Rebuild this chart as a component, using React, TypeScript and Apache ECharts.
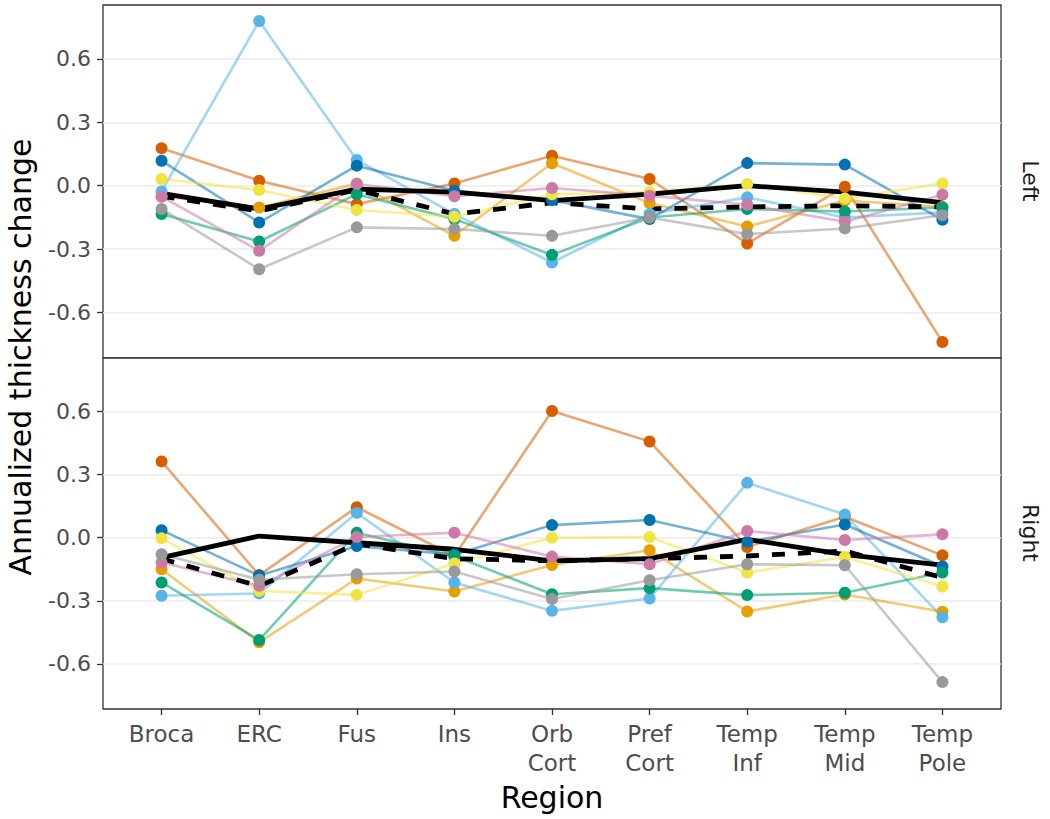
import React, { useEffect, useRef } from "react";
import * as echarts from "echarts";

// ---------- data ----------
const categories = ["Broca", "ERC", "Fus", "Ins", "Orb Cort", "Pref Cort", "Temp Inf", "Temp Mid", "Temp Pole"];
const hemispheres = ["Left", "Right"];
const yTickValues = [-0.6, -0.3, 0, 0.3, 0.6];

const studyNames = ["Study 1", "Study 2", "Study 3", "Study 4", "Study 5", "Study 6", "Study 7", "Study 8"];
const studyColors = ["#D55E00", "#E69F00", "#56B4E9", "#0072B2", "#009E73", "#F0E442", "#CC79A7", "#999999"];

// Left hemisphere
const leftS1 = [0.177, 0.024, -0.087, 0.011, 0.142, 0.032, -0.273, -0.005, -0.739];
const leftS2 = [-0.05, -0.103, 0.01, -0.237, 0.106, -0.082, -0.193, -0.07, -0.1];
const leftS3 = [-0.027, 0.779, 0.122, -0.134, -0.363, -0.134, -0.055, -0.15, -0.126];
const leftS4 = [0.118, -0.174, 0.095, -0.024, -0.068, -0.158, 0.107, 0.1, -0.161];
const leftS5 = [-0.134, -0.264, -0.04, -0.158, -0.327, -0.15, -0.11, -0.122, -0.103];
const leftS6 = [0.032, -0.02, -0.115, -0.147, -0.04, -0.03, 0.008, -0.06, 0.011];
const leftS7 = [-0.052, -0.308, 0.008, -0.05, -0.011, -0.047, -0.09, -0.17, -0.043];
const leftS8 = [-0.11, -0.395, -0.197, -0.205, -0.237, -0.15, -0.229, -0.202, -0.14];
const leftMean = [-0.036, -0.11, -0.016, -0.03, -0.07, -0.04, 0.0, -0.03, -0.08];
const leftMeta = [-0.05, -0.12, -0.02, -0.134, -0.08, -0.11, -0.1, -0.095, -0.1];

// Right hemisphere
const rightS1 = [0.363, -0.178, 0.145, -0.087, 0.603, 0.458, -0.044, 0.1, -0.084];
const rightS2 = [-0.15, -0.498, -0.194, -0.256, -0.13, -0.06, -0.351, -0.27, -0.352];
const rightS3 = [-0.276, -0.265, 0.118, -0.213, -0.348, -0.289, 0.261, 0.11, -0.379];
const rightS4 = [0.036, -0.18, -0.04, -0.08, 0.06, 0.084, -0.02, 0.063, -0.137];
const rightS5 = [-0.213, -0.487, 0.024, -0.087, -0.269, -0.24, -0.273, -0.262, -0.166];
const rightS6 = [-0.003, -0.253, -0.272, -0.123, 0.0, 0.003, -0.166, -0.092, -0.232];
const rightS7 = [-0.118, -0.229, 0.003, 0.024, -0.09, -0.126, 0.032, -0.011, 0.016];
const rightS8 = [-0.079, -0.2, -0.174, -0.161, -0.292, -0.202, -0.126, -0.131, -0.687];
const rightMean = [-0.095, 0.008, -0.024, -0.055, -0.11, -0.1, -0.008, -0.08, -0.13];
const rightMeta = [-0.1, -0.23, -0.03, -0.1, -0.11, -0.1, -0.087, -0.063, -0.19];

const leftStudies = [leftS1, leftS2, leftS3, leftS4, leftS5, leftS6, leftS7, leftS8];
const rightStudies = [rightS1, rightS2, rightS3, rightS4, rightS5, rightS6, rightS7, rightS8];

// ---------- component ----------
const FONT = "'DejaVu Sans', sans-serif";

function toPairs(arr: number[]) {
  return categories.map((_, i) => [i, arr[i]]);
}

export default function App() {
  const ref = useRef<HTMLDivElement>(null);

  useEffect(() => {
    document.body.style.margin = "0";
    if (!ref.current) return;
    const chart = echarts.init(ref.current, null, { renderer: "svg" });

    const grids = [
      { left: 103, top: 5, width: 898, height: 353 },
      { left: 103, top: 358, width: 898, height: 351 },
    ].map((g) => ({ ...g, show: true, borderColor: "#333333", borderWidth: 1.3, backgroundColor: "#ffffff" }));

    const catIdx = categories.map((_, i) => i);
    const xAxes = [0, 1].map((gi) => ({
      type: "value",
      gridIndex: gi,
      position: "bottom",
      min: -0.6,
      max: 8.6,
      axisLine: { show: false, onZero: false },
      splitLine: { show: false },
      axisTick: { show: gi === 1, customValues: catIdx, length: 6, lineStyle: { color: "#333333", width: 1.3 } },
      axisLabel: {
        show: gi === 1,
        customValues: catIdx,
        formatter: (v: number) => (categories[Math.round(v)] || "").replace(" ", "\n"),
        color: "#4d4d4d",
        fontFamily: FONT,
        fontSize: 23,
        lineHeight: 29,
        margin: 10,
      },
    }));

    const yAxes = [0, 1].map((gi) => ({
      type: "value",
      gridIndex: gi,
      position: "left",
      min: -0.815,
      max: 0.855,
      axisLine: { show: false, onZero: false },
      axisTick: { show: true, customValues: yTickValues, length: 6, lineStyle: { color: "#333333", width: 1.3 } },
      axisLabel: {
        customValues: yTickValues,
        formatter: (v: number) => v.toFixed(1),
        color: "#4d4d4d",
        fontFamily: FONT,
        fontSize: 22,
        margin: 12,
      },
      splitLine: { show: true, lineStyle: { color: "#ebebeb", width: 1.6 } },
    }));

    const series: any[] = [];
    const panels = [leftStudies, rightStudies];
    const means = [leftMean, rightMean];
    const metas = [leftMeta, rightMeta];

    panels.forEach((studies, gi) => {
      studies.forEach((arr, si) => {
        series.push({
          name: `${hemispheres[gi]} ${studyNames[si]} line`,
          type: "line",
          xAxisIndex: gi,
          yAxisIndex: gi,
          data: toPairs(arr),
          showSymbol: false,
          symbol: "none",
          z: 2,
          lineStyle: { color: studyColors[si], width: 2.6, opacity: 0.55 },
          silent: true,
        });
      });
      series.push({
        name: `${hemispheres[gi]} mean`,
        type: "line",
        xAxisIndex: gi,
        yAxisIndex: gi,
        data: toPairs(means[gi]),
        symbol: "none",
        z: 3,
        lineStyle: { color: "#000000", width: 4.8 },
      });
      series.push({
        name: `${hemispheres[gi]} meta`,
        type: "line",
        xAxisIndex: gi,
        yAxisIndex: gi,
        data: toPairs(metas[gi]),
        symbol: "none",
        z: 3,
        lineStyle: { color: "#000000", width: 4.8, type: [13, 13] },
      });
      studies.forEach((arr, si) => {
        series.push({
          name: `${hemispheres[gi]} ${studyNames[si]} points`,
          type: "scatter",
          xAxisIndex: gi,
          yAxisIndex: gi,
          data: toPairs(arr),
          symbol: "circle",
          symbolSize: 12,
          z: 4,
          itemStyle: { color: studyColors[si], opacity: 1 },
        });
      });
    });

    chart.setOption({
      animation: false,
      backgroundColor: "#ffffff",
      grid: grids,
      xAxis: xAxes,
      yAxis: yAxes,
      series,
      graphic: [
        {
          type: "text",
          x: 20,
          y: 357,
          rotation: Math.PI / 2,
          style: {
            text: "Annualized thickness change",
            font: `30px ${FONT}`,
            fill: "#000000",
            textAlign: "center",
            textVerticalAlign: "middle",
          },
        },
        {
          type: "text",
          x: 552,
          y: 797,
          style: {
            text: "Region",
            font: `30px ${FONT}`,
            fill: "#000000",
            textAlign: "center",
            textVerticalAlign: "middle",
          },
        },
        {
          type: "text",
          x: 1030,
          y: 181,
          rotation: -Math.PI / 2,
          style: {
            text: hemispheres[0],
            font: `22px ${FONT}`,
            fill: "#1a1a1a",
            textAlign: "center",
            textVerticalAlign: "middle",
          },
        },
        {
          type: "text",
          x: 1030,
          y: 533,
          rotation: -Math.PI / 2,
          style: {
            text: hemispheres[1],
            font: `22px ${FONT}`,
            fill: "#1a1a1a",
            textAlign: "center",
            textVerticalAlign: "middle",
          },
        },
      ],
    });

    return () => chart.dispose();
  }, []);

  return <div ref={ref} style={{ width: 1050, height: 819 }} />;
}
